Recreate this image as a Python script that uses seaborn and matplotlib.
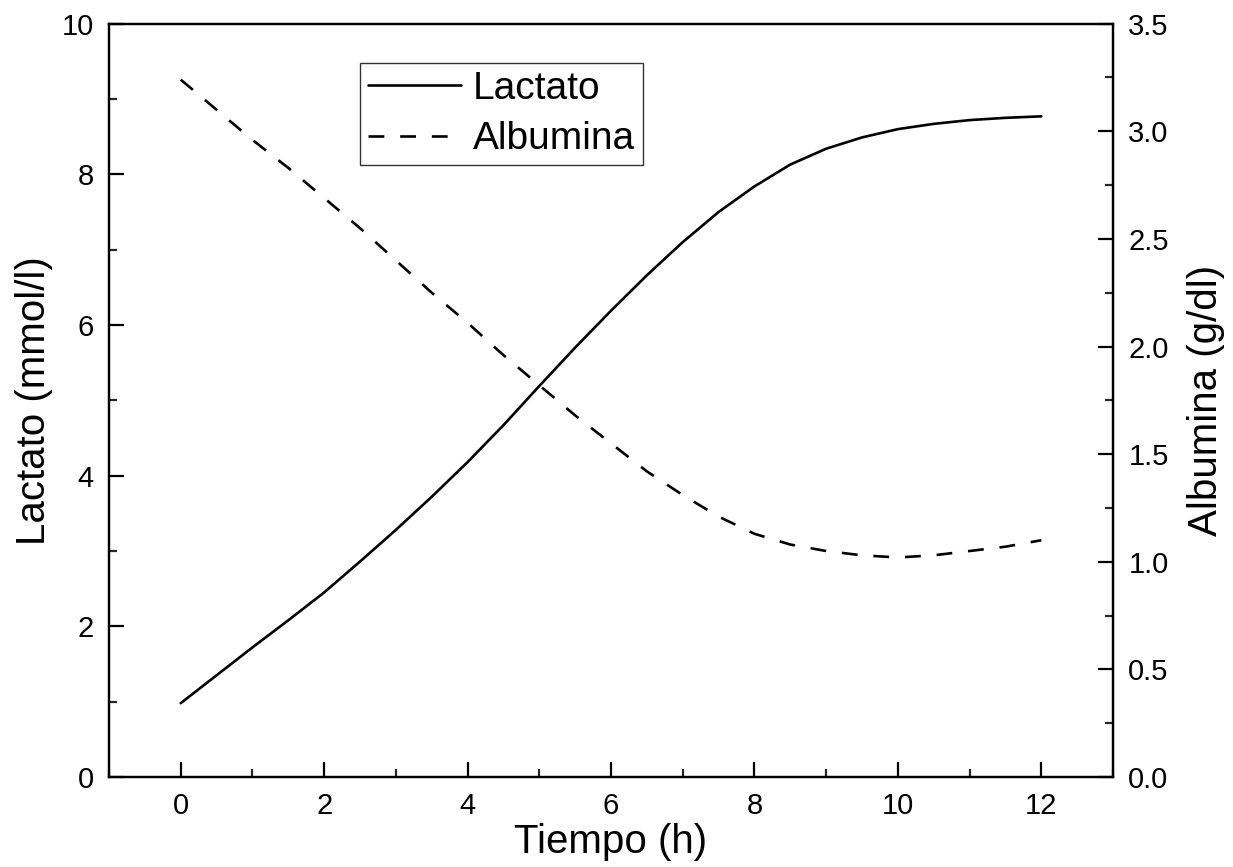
import numpy as np
import pandas as pd
import matplotlib
matplotlib.use("Agg")
import matplotlib.pyplot as plt
from matplotlib.ticker import MultipleLocator
import seaborn as sns

# ---- data ----
tiempo = [0, 0.5, 1, 1.5, 2, 2.5, 3, 3.5, 4, 4.5, 5, 5.5, 6, 6.5, 7, 7.5,
          8, 8.5, 9, 9.5, 10, 10.5, 11, 11.5, 12]
lactato = [0.98, 1.35, 1.72, 2.08, 2.45, 2.86, 3.28, 3.72, 4.18, 4.67, 5.19,
           5.70, 6.19, 6.66, 7.10, 7.50, 7.84, 8.13, 8.34, 8.49, 8.60, 8.67,
           8.72, 8.75, 8.77]
albumina = [3.24, 3.10, 2.96, 2.83, 2.69, 2.55, 2.40, 2.25, 2.11, 1.96, 1.82,
            1.68, 1.55, 1.42, 1.31, 1.21, 1.13, 1.08, 1.05, 1.03, 1.02, 1.03,
            1.05, 1.07, 1.10]
x_ticks = [0, 2, 4, 6, 8, 10, 12]
left_ticks = [0, 2, 4, 6, 8, 10]
right_ticks = [0.0, 0.5, 1.0, 1.5, 2.0, 2.5, 3.0, 3.5]

df = pd.DataFrame({"Tiempo": tiempo, "Lactato": lactato, "Albumina": albumina})

sns.set_style("white")
plt.rcParams["font.family"] = ["Liberation Sans", "DejaVu Sans"]
plt.rcParams["text.color"] = "black"
plt.rcParams["axes.labelcolor"] = "black"

fig = plt.figure(figsize=(12.33, 8.67), dpi=100)
ax = fig.add_axes([0.0884, 0.1038, 0.9027 - 0.0884, 0.9727 - 0.1038])
ax2 = ax.twinx()

sns.lineplot(data=df, x="Tiempo", y="Lactato", ax=ax, color="black",
             lw=1.9, label="Lactato", legend=False)
sns.lineplot(data=df, x="Tiempo", y="Albumina", ax=ax2, color="black",
             lw=1.9, ls=(0, (6, 6)), label="Albumina", legend=False)

ax.set_xlim(-1, 13)
ax.set_ylim(0, 10)
ax2.set_ylim(0, 3.5)

ax.set_xticks(x_ticks)
ax.set_yticks(left_ticks)
ax2.set_yticks(right_ticks)
ax.set_xticklabels([str(v) for v in x_ticks])
ax.set_yticklabels([str(v) for v in left_ticks])
ax2.set_yticklabels([f"{v:.1f}" for v in right_ticks])
ax.xaxis.set_minor_locator(MultipleLocator(1))
ax.yaxis.set_minor_locator(MultipleLocator(1))
ax2.yaxis.set_minor_locator(MultipleLocator(0.25))

for a in (ax, ax2):
    for s in a.spines.values():
        s.set_visible(True)
        s.set_color("black")
        s.set_linewidth(1.6)

ax.tick_params(axis="both", which="major", direction="in", length=11, width=1.6,
               labelsize=21, colors="black", pad=11, top=False, right=False,
               bottom=True, left=True)
ax.tick_params(axis="both", which="minor", direction="in", length=6, width=1.6,
               top=False, right=False, bottom=True, left=True)
ax2.tick_params(axis="y", which="major", direction="in", length=11, width=1.6,
                labelsize=21, colors="black", pad=11, right=True, left=False)
ax2.tick_params(axis="y", which="minor", direction="in", length=6, width=1.6,
                right=True, left=False)

ax.set_xlabel("Tiempo (h)", fontsize=29, labelpad=2, color="black")
ax.set_ylabel("Lactato (mmol/l)", fontsize=29, labelpad=6, color="black")
ax2.set_ylabel("Albumina (g/dl)", fontsize=29, labelpad=13, color="black")

h1, l1 = ax.get_legend_handles_labels()
h2, l2 = ax2.get_legend_handles_labels()
leg = ax2.legend(h1 + h2, l1 + l2, loc="upper left", bbox_to_anchor=(0.25, 0.948),
                 borderaxespad=0, fontsize=28, frameon=True, fancybox=False,
                 edgecolor="black", handlelength=2.4, handletextpad=0.3,
                 borderpad=0.2, labelspacing=0.38)
leg.get_frame().set_linewidth(1.0)
for txt in leg.get_texts():
    txt.set_color("black")

fig.savefig("out.png", dpi=100, facecolor="white")
